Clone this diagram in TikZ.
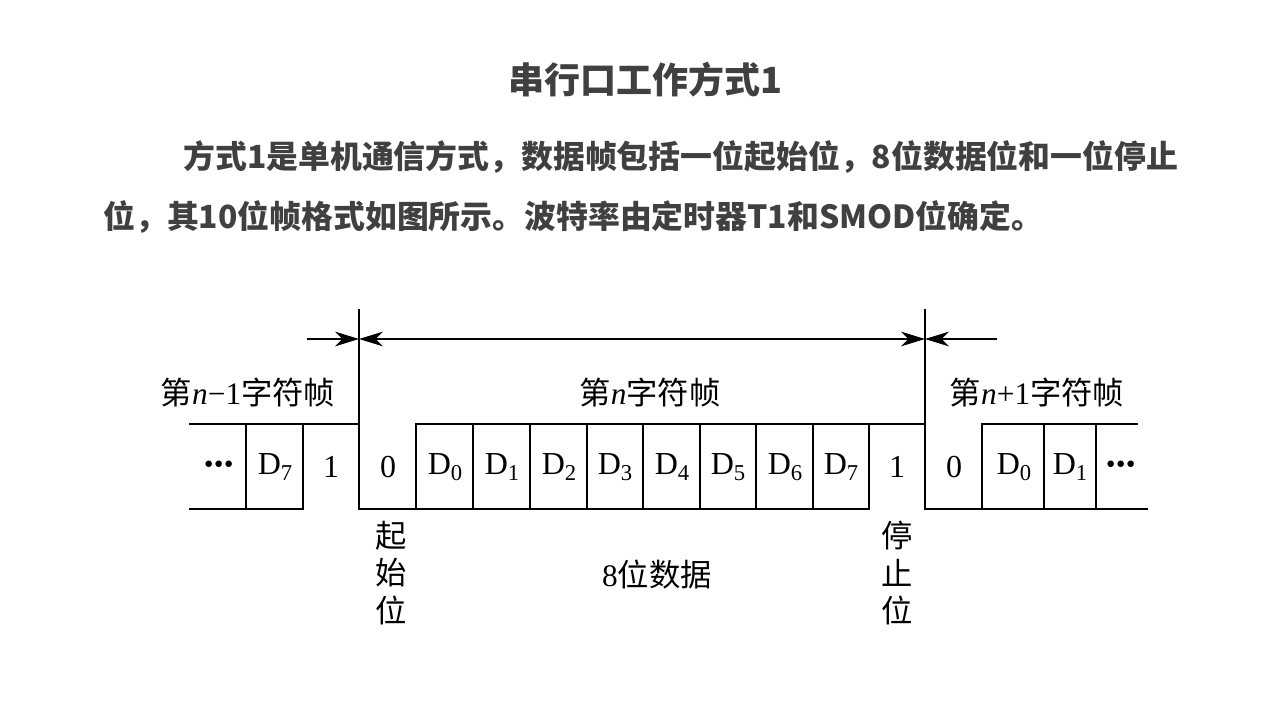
\documentclass[tikz,border=0pt]{standalone}
\usepackage{fontspec}
\setmainfont{Liberation Serif}
\newfontfamily\cjk{Noto Sans CJK SC}
\newfontfamily\cjkh{Noto Sans CJK SC}
\usetikzlibrary{arrows.meta}
\definecolor{txtgray}{HTML}{404040}
\newcommand\Dsub[1]{D\raisebox{-0.45ex}{\fontsize{17}{17}\selectfont #1}}
\newcommand\lat[1]{{\rmfamily #1}}
\newcommand\ital[1]{{\rmfamily\itshape #1}}
\newcommand\dotsrow{{\fontsize{30}{30}\selectfont\bfseries ·\kern-2.5pt·\kern-2.5pt·}}
\tikzset{
  wave/.style={line width=2.2pt, line cap=rect},
  tipA/.tip={Stealth[length=18pt,width=11pt,inset=5.5pt]},
  dim/.style={line width=1.6pt, -tipA},
  cell/.style={font=\fontsize{24}{28}\selectfont, inner sep=0pt},
  lab/.style={font=\fontsize{23.5}{28}\selectfont\cjk, inner sep=0pt},
  vlab/.style={font=\fontsize{23.5}{28}\selectfont\cjk, inner sep=0pt, align=center},
  title/.style={font=\fontsize{27}{32}\selectfont\cjkh\bfseries, text=txtgray, inner sep=0pt},
  para/.style={font=\fontsize{23.9}{30}\selectfont\cjkh\bfseries, text=txtgray, inner sep=0pt, anchor=west},
}
\begin{document}
\begin{tikzpicture}[x=0.75pt,y=-0.75pt]
\useasboundingbox (0,0) rectangle (1280,720);
% title and paragraph
\node[title] (ttl) at (645,80) {串行口工作方式1};
\node[para] (p1) at (183,157) {方式1是单机通信方式，数据帧包括一位起始位，8位数据位和一位停止};
\node[para] (p2) at (103,217) {位，其10位帧格式如图所示。波特率由定时器T1和SMOD位确定。};

% key coordinates
\coordinate (vA) at (359,310);
\coordinate (vB) at (925,310);
% left frame
\draw[wave] (190,424) -- (359,424);
\draw[wave] (190,509) -- (303,509);
\draw[wave] (246,424) -- (246,509);
\draw[wave] (303,424) -- (303,509);
\draw[wave] (vA) -- (359,509) -- (869,509);
% middle frame
\draw[wave] (416,509) -- (416,424) -- (vB |- 0,424);
\foreach \x in {473,530,587,643,700,756,813,869}{
  \draw[wave] (\x,424) -- (\x,509);
}
\draw[wave] (vB) -- (925,509) -- (1147,509);
% right frame
\draw[wave] (982,509) -- (982,424) -- (1137,424);
\draw[wave] (1044,424) -- (1044,509);
\draw[wave] (1096,424) -- (1096,509);

% dimension arrows
\coordinate (aL) at (307,339);
\coordinate (aA) at (359,339);
\coordinate (aB) at (925,339);
\coordinate (aR) at (997,339);
\draw[dim] (aL) -- (aA);
\draw[dim, tipA-tipA] (aA) -- (aB);
\draw[dim] (aR) -- (aB);

% cell texts
\node[cell] (c1) at (219,469) {\dotsrow};
\node[cell] (c2) at (275,467) {\Dsub{7}};
\node[cell] (c3) at (331,467) {1};
\node[cell] (c4) at (388,467) {0};
\node[cell] (c5) at (445,467) {\Dsub{0}};
\node[cell] (c6) at (502,467) {\Dsub{1}};
\node[cell] (c7) at (559,467) {\Dsub{2}};
\node[cell] (c8) at (615,467) {\Dsub{3}};
\node[cell] (c9) at (672,467) {\Dsub{4}};
\node[cell] (c10) at (728,467) {\Dsub{5}};
\node[cell] (c11) at (785,467) {\Dsub{6}};
\node[cell] (c12) at (841,467) {\Dsub{7}};
\node[cell] (c13) at (897,467) {1};
\node[cell] (c14) at (954,467) {0};
\node[cell] (c15) at (1014,467) {\Dsub{0}};
\node[cell] (c16) at (1070,467) {\Dsub{1}};
\node[cell] (c17) at (1121,469) {\dotsrow};

% frame labels
\node[lab] (f1) at (248,393) {第\ital{n}\lat{−1}字符帧};
\node[lab] (f2) at (650,393) {第\ital{n}字符帧};
\node[lab] (f3) at (1037,393) {第\ital{n}\lat{+1}字符帧};

% bottom labels
\node[vlab] (b1) at (391,573) {起\\[0pt]始\\[0pt]位};
\node[lab] (b2) at (657,575) {\lat{8}位数据};
\node[vlab] (b3) at (897,573) {停\\[0pt]止\\[0pt]位};
\end{tikzpicture}
\end{document}
